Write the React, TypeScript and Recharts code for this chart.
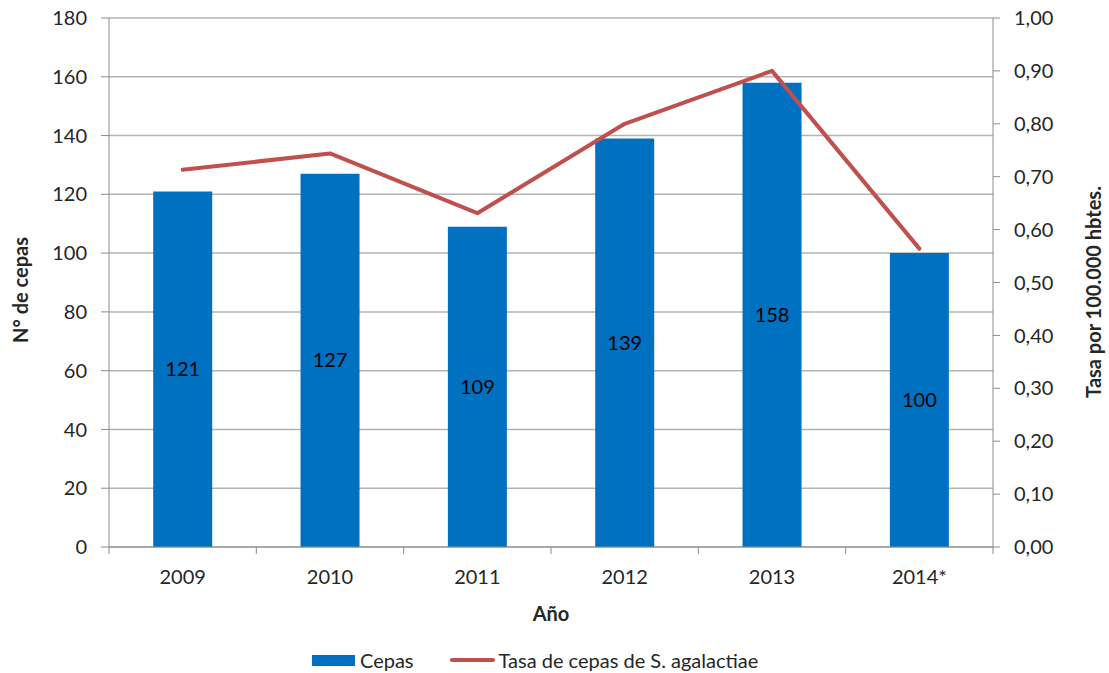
import {
  ComposedChart,
  Bar,
  Line,
  XAxis,
  YAxis,
  CartesianGrid,
  LabelList,
} from "recharts";

// data
const years = ["2009", "2010", "2011", "2012", "2013", "2014*"];
const cepas = [121, 127, 109, 139, 158, 100];
const tasa = [0.713, 0.744, 0.631, 0.8, 0.9, 0.564];
const leftTicks = [0, 20, 40, 60, 80, 100, 120, 140, 160, 180];
const rightTicks = [0, 0.1, 0.2, 0.3, 0.4, 0.5, 0.6, 0.7, 0.8, 0.9, 1];

const data = years.map((year, i) => ({ year, cepas: cepas[i], tasa: tasa[i] }));

const W = 1109;
const H = 673;
const LEFT_W = 109;
const RIGHT_W = 116;
const PLOT_W = W - LEFT_W - RIGHT_W;
const FONT = "Lato, 'Open Sans', sans-serif";
const TEXT = "#262626";
const AXIS = "#8c8c8c";
const GRID = "#b3b3b3";
const BLUE = "#0070c0";
const RED = "#c0504d";

function YearTick(props: any) {
  const { x, y, payload, index } = props;
  const bw = PLOT_W / years.length;
  return (
    <g>
      <line x1={x - bw / 2} y1={y} x2={x - bw / 2} y2={y + 7} stroke={AXIS} />
      {index === years.length - 1 && (
        <line x1={x + bw / 2} y1={y} x2={x + bw / 2} y2={y + 7} stroke={AXIS} />
      )}
      <text
        x={x}
        y={y + 23}
        dy="0.71em"
        textAnchor="middle"
        fill={TEXT}
        fontSize={20}
        fontFamily={FONT}
      >
        {payload.value}
      </text>
    </g>
  );
}

function AxisTitle({ px, py, rot, title }: { px: number; py: number; rot: number; title: string }) {
  return (
    <text
      x={px}
      y={py}
      transform={`rotate(${rot}, ${px}, ${py})`}
      textAnchor="middle"
      dominantBaseline="central"
      fontWeight="bold"
      fontSize={20}
      fontFamily={FONT}
      fill={TEXT}
    >
      {title}
    </text>
  );
}

export default function App() {
  return (
    <div style={{ position: "absolute", left: 0, top: 0, width: W, height: H, background: "#fff" }}>
      <ComposedChart
        width={W}
        height={H}
        data={data}
        margin={{ top: 18, right: 0, left: 0, bottom: 76 }}
        barCategoryGap="30%"
      >
        <CartesianGrid yAxisId="left" vertical={false} stroke={GRID} strokeWidth={1.5} />
        <XAxis
          dataKey="year"
          height={50}
          stroke={AXIS}
          tickLine={false}
          tickSize={0}
          tickMargin={0}
          tick={<YearTick />}
          interval={0}
          label={<AxisTitle px={551} py={613} rot={0} title="Año" />}
        />
        <YAxis
          yAxisId="left"
          orientation="left"
          width={LEFT_W}
          domain={[0, 180]}
          ticks={leftTicks}
          interval={0}
          stroke={AXIS}
          tickSize={8}
          tickMargin={14}
          tick={{ fill: TEXT, fontSize: 20, fontFamily: FONT }}
          label={<AxisTitle px={20} py={290} rot={-90} title="N° de cepas" />}
        />
        <YAxis
          yAxisId="right"
          orientation="right"
          width={RIGHT_W}
          domain={[0, 1]}
          ticks={rightTicks}
          interval={0}
          stroke={AXIS}
          tickSize={7}
          tickMargin={14}
          tickFormatter={(v: number) => v.toFixed(2).replace(".", ",")}
          tick={{ fill: TEXT, fontSize: 20, fontFamily: FONT, textAnchor: "start" }}
          label={<AxisTitle px={1093} py={292} rot={-90} title="Tasa por 100.000 hbtes." />}
        />
        <Bar yAxisId="left" dataKey="cepas" fill={BLUE} isAnimationActive={false}>
          <LabelList
            dataKey="cepas"
            position="center"
            fill="#000"
            fontSize={20}
            fontFamily={FONT}
          />
        </Bar>
        <Line
          yAxisId="right"
          dataKey="tasa"
          stroke={RED}
          strokeWidth={4}
          strokeLinecap="round"
          strokeLinejoin="round"
          dot={false}
          activeDot={false}
          isAnimationActive={false}
        />
      </ComposedChart>
      <div
        style={{
          position: "absolute",
          top: 648,
          left: 312,
          display: "flex",
          alignItems: "center",
          fontFamily: FONT,
          fontSize: 20,
          color: TEXT,
          whiteSpace: "nowrap",
          lineHeight: "24px",
        }}
      >
        <span style={{ display: "inline-block", width: 43, height: 11, background: BLUE }} />
        <span style={{ marginLeft: 5 }}>Cepas</span>
        <span
          style={{
            display: "inline-block",
            width: 45,
            height: 4,
            borderRadius: 2,
            background: RED,
            marginLeft: 36,
          }}
        />
        <span style={{ marginLeft: 4 }}>Tasa de cepas de S. agalactiae</span>
      </div>
    </div>
  );
}
